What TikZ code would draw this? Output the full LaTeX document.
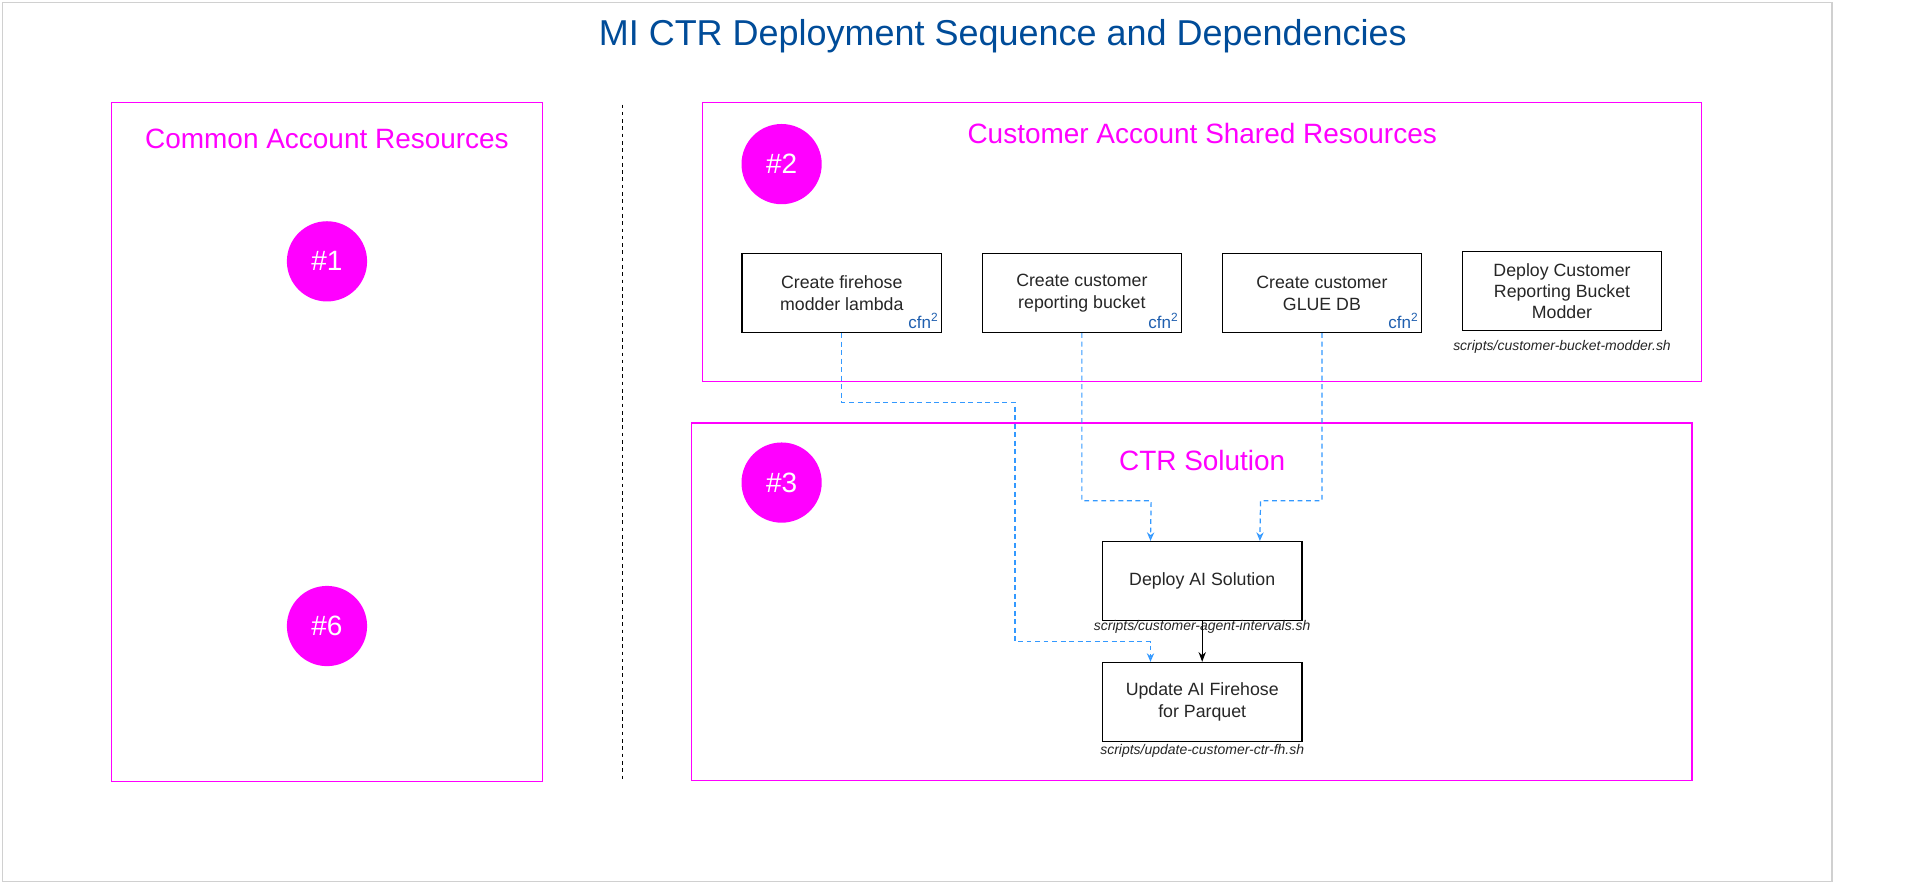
\documentclass[tikz,border=0pt]{standalone}
\usepackage{fontspec}
\setmainfont{Liberation Sans}
\usetikzlibrary{arrows.meta,calc}
\definecolor{mag}{HTML}{FF00FF}
\definecolor{ttl}{HTML}{004C99}
\definecolor{lnk}{HTML}{3399FF}
\definecolor{cfnc}{HTML}{1F5FAF}
\definecolor{frm}{HTML}{D0D0D0}
\tikzset{
  zone/.style={draw=mag, line width=1pt},
  zonetitle/.style={text=mag, font=\fontsize{23}{27}\selectfont, anchor=base, inner sep=0pt},
  badge/.style={circle, fill=mag, draw=none, minimum size=66pt, inner sep=0pt, text=white, font=\fontsize{23}{27}\selectfont},
  stepbox/.style={draw=black, line width=1.1pt, minimum width=164pt, minimum height=65pt, align=center, inner sep=0pt, font=\fontsize{14.6}{18}\selectfont, text=black!85},
  cfn/.style={text=cfnc, font=\fontsize{14}{16}\selectfont, inner sep=0pt, anchor=base east},
  scriptlbl/.style={font=\fontsize{11.5}{13}\selectfont\itshape, text=black!85, anchor=base, inner sep=0pt},
  dep/.style={draw=lnk, line width=1pt, dash pattern=on 4pt off 3pt, -{Stealth[length=7pt,width=6pt,open]}},
  seq/.style={draw=black, line width=1pt, -{Stealth[length=8pt,width=6pt]}}
}
\begin{document}
\begin{tikzpicture}[x=1pt,y=-1pt]
\useasboundingbox (0,0) rectangle (1568,728);
\fill[white] (0,0) rectangle (1568,728);
\draw[frm, line width=1.2pt] (2,2) rectangle (1507,725);
\node[text=ttl, font=\fontsize{29.6}{34}\selectfont, anchor=base, inner sep=0pt] (title) at (825,37.5) {MI CTR Deployment Sequence and Dependencies};

% Common account
\draw[zone] (92,84) rectangle (446,643);
\node[zonetitle] (commontitle) at (269,122) {Common Account Resources};
\node[badge] (b1) at (269,215) {\#1};
\node[badge] (b6) at (269,515) {\#6};

% separator
\draw[black, line width=1pt, dash pattern=on 3pt off 3pt] (512,86) -- (512,643);

% Customer shared resources
\draw[zone] (578,84) rectangle (1400,314);
\node[zonetitle] (sharedtitle) at (989,118) {Customer Account Shared Resources};
\node[badge] (b2) at (643,135) {\#2};

\node[stepbox] (fh) at (692.5,241) {Create firehose\\modder lambda};
\node[stepbox] (rb) at (890,241) {Create customer\\reporting bucket};
\node[stepbox] (gd) at (1087.5,241) {Create customer\\GLUE DB};
\node[stepbox, font=\fontsize{14.6}{17.5}\selectfont] (bm) at (1285,239.5) {Deploy Customer\\Reporting Bucket\\Modder};

\node[cfn] (cfn1) at ([shift={(-3pt,4pt)}]fh.south east) {cfn\textsuperscript{2}};
\node[cfn] (cfn2) at ([shift={(-3pt,4pt)}]rb.south east) {cfn\textsuperscript{2}};
\node[cfn] (cfn3) at ([shift={(-3pt,4pt)}]gd.south east) {cfn\textsuperscript{2}};
\node[scriptlbl] (bml) at (1285,288) {scripts/customer-bucket-modder.sh};

% CTR solution
\draw[zone] (569,348) rectangle (1392,642);
\node[zonetitle] (ctrtitle) at (989,387) {CTR Solution};
\node[badge] (b3) at (643,397) {\#3};

\node[stepbox] (dai) at (989,478) {Deploy AI Solution};
\node[scriptlbl] (dail) at (989,519) {scripts/customer-agent-intervals.sh};
\node[stepbox] (upd) at (989,577.5) {Update AI Firehose\\for Parquet};
\node[scriptlbl] (updl) at (989,621) {scripts/update-customer-ctr-fh.sh};

% connectors
\coordinate (k1) at (835,331);
\coordinate (k2) at (835,528);
\coordinate (k3) at (947,412);
\coordinate (k4) at (1037,412);
\draw[dep] (fh.south) |- (k1) -- (k2) -| ([xshift=40pt]upd.north west);
\draw[dep] (rb.south) |- (k3) -- ([xshift=40pt]dai.north west);
\draw[dep] (gd.south) |- (k4) -- ([xshift=130pt]dai.north west);
\draw[seq] (dai.south) -- (upd.north);
\end{tikzpicture}
\end{document}
